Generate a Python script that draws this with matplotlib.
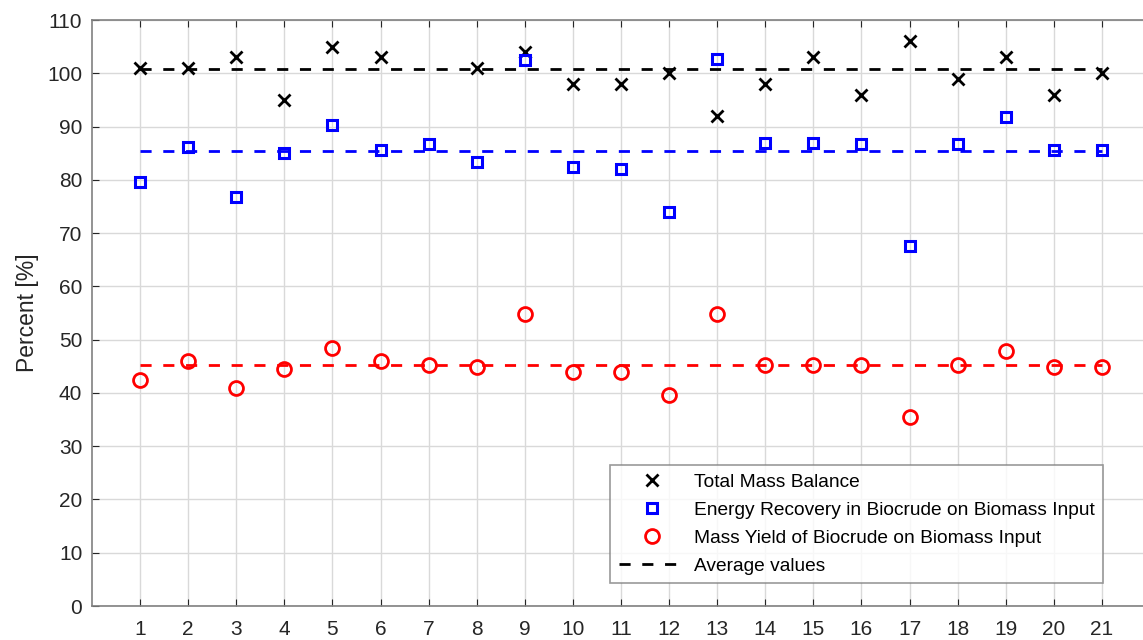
import numpy as np
import matplotlib.pyplot as plt

runs = np.arange(1, 22)

total_mass = [101, 101, 103, 95, 105, 103, np.nan, 101, 104, 98, 98,
              100, 92, 98, 103, 96, 106, 99, 103, 96, 100]
energy_rec = [79.5, 86.2, 76.7, 85.1, 90.2, 85.6, 86.7, 83.3, 102.5, 82.4, 82.0,
              74.0, 102.6, 87.0, 87.0, 86.8, 67.6, 86.7, 91.8, 85.6, 85.6]
mass_yield = [42.4, 46.0, 40.9, 44.5, 48.4, 45.9, 45.2, 44.8, 54.8, 44.0, 44.0,
              39.6, 54.8, 45.2, 45.2, 45.2, 35.4, 45.2, 47.9, 44.8, 44.8]

avg_total = 100.8
avg_energy = 85.5
avg_yield = 45.2

plt.rcParams['font.family'] = 'Liberation Sans'

fig = plt.figure(figsize=(11.43, 6.4), dpi=100)
ax = fig.add_axes([92/1143, 34/640, 1058/1143, 586/640])

gray = '#808080'
ax.plot(runs, total_mass, 'x', color='k', ms=9, mew=2, label='Total Mass Balance', zorder=3)
ax.plot(runs, energy_rec, 's', color='b', mfc='none', ms=7.5, mew=2.2,
        label='Energy Recovery in Biocrude on Biomass Input', zorder=3)
ax.plot(runs, mass_yield, 'o', color='r', mfc='none', ms=10, mew=2,
        label='Mass Yield of Biocrude on Biomass Input', zorder=3)

ax.plot([runs[0], runs[-1]], [avg_total] * 2, '--', color='k', lw=2, dashes=(4, 4.2),
        label='Average values', zorder=2)
ax.plot([runs[0], runs[-1]], [avg_energy] * 2, '--', color='b', lw=2, dashes=(4, 4.2), zorder=2)
ax.plot([runs[0], runs[-1]], [avg_yield] * 2, '--', color='r', lw=2, dashes=(4, 4.2), zorder=2)

ax.set_xlim(0, 22)
ax.set_ylim(0, 110)
ax.set_xticks(runs)
ax.set_yticks(np.arange(0, 111, 10))
ax.grid(True, color='#d9d9d9', lw=1)
ax.set_axisbelow(True)
ax.tick_params(direction='in', top=True, right=True, length=5, colors='#262626',
               labelsize=15)
ax.tick_params(axis='x', pad=10)
ax.tick_params(axis='y', pad=7)
for s in ax.spines.values():
    s.set_color(gray)
    s.set_linewidth(1.2)
ax.set_ylabel('Percent [%]', fontsize=16.5, color='#262626', labelpad=6)

leg = ax.legend(loc='lower right', bbox_to_anchor=(0.9556, 0.039), borderaxespad=0,
                fontsize=13.8, frameon=True, fancybox=False, edgecolor=gray,
                handlelength=3.5, handletextpad=0.4, borderpad=0.45, labelspacing=0.55)
leg.get_frame().set_linewidth(1.2)

fig.savefig('out.png', dpi=100)
